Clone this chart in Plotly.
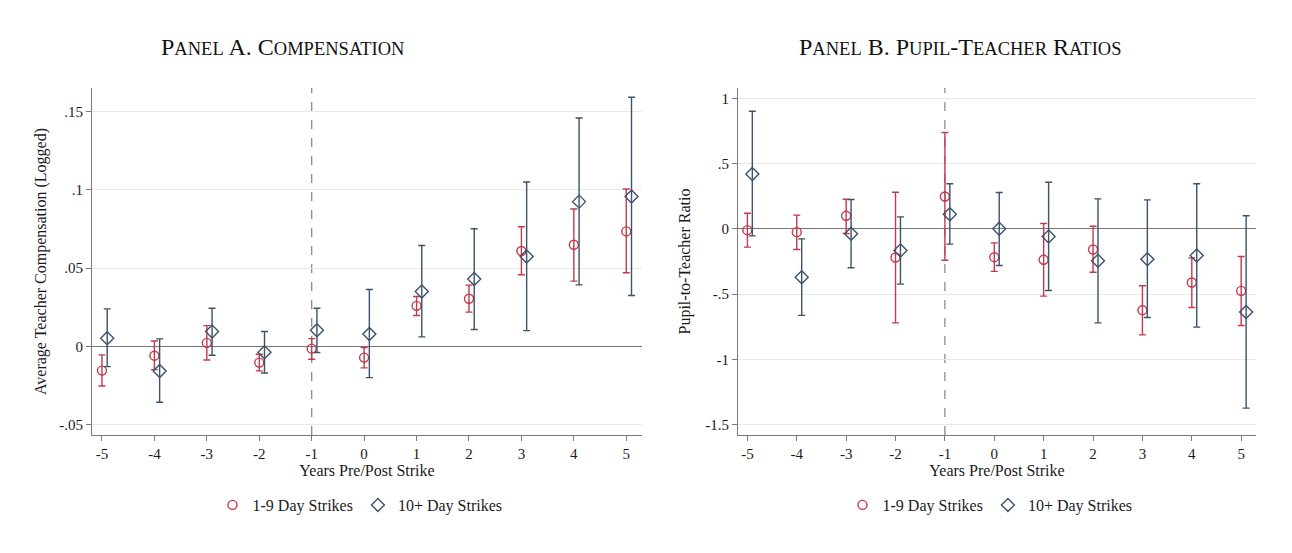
import plotly.graph_objects as go

years = [-5, -4, -3, -2, -1, 0, 1, 2, 3, 4, 5]

# Panel A: Average Teacher Compensation (Logged)
a_short = [-0.0153, -0.0058, 0.0024, -0.0102, -0.0013, -0.0070, 0.0260, 0.0305, 0.0610, 0.0650, 0.0735]
a_short_hi = [-0.0053, 0.0036, 0.0134, -0.0049, 0.0051, -0.0006, 0.0320, 0.0392, 0.0765, 0.0878, 0.1006]
a_short_lo = [-0.0251, -0.0147, -0.0085, -0.0155, -0.0081, -0.0136, 0.0198, 0.0220, 0.0458, 0.0418, 0.0471]
a_long = [0.0054, -0.0155, 0.0096, -0.0036, 0.0105, 0.0081, 0.0351, 0.0431, 0.0575, 0.0925, 0.0958]
a_long_hi = [0.0241, 0.0049, 0.0245, 0.0096, 0.0245, 0.0364, 0.0645, 0.0752, 0.1050, 0.1459, 0.1591]
a_long_lo = [-0.0128, -0.0355, -0.0055, -0.0168, -0.0038, -0.0198, 0.0062, 0.0109, 0.0102, 0.0394, 0.0326]

# Panel B: Pupil-to-Teacher Ratio
b_short = [-0.010, -0.025, 0.100, -0.219, 0.248, -0.217, -0.237, -0.158, -0.623, -0.411, -0.475]
b_short_hi = [0.120, 0.105, 0.227, 0.281, 0.738, -0.107, 0.041, 0.020, -0.436, -0.222, -0.212]
b_short_lo = [-0.140, -0.158, -0.036, -0.720, -0.240, -0.326, -0.515, -0.332, -0.812, -0.602, -0.740]
b_long = [0.421, -0.370, -0.038, -0.166, 0.112, 0.000, -0.059, -0.245, -0.232, -0.204, -0.636]
b_long_hi = [0.901, -0.077, 0.225, 0.092, 0.345, 0.279, 0.357, 0.230, 0.222, 0.345, 0.100]
b_long_lo = [-0.054, -0.663, -0.298, -0.423, -0.117, -0.281, -0.472, -0.720, -0.679, -0.753, -1.373]

a_ticks = [-0.05, 0, 0.05, 0.1, 0.15]
a_ticktext = ["-.05", "0", ".05", ".1", ".15"]
b_ticks = [-1.5, -1, -0.5, 0, 0.5, 1]
b_ticktext = ["-1.5", "-1", "-.5", "0", ".5", "1"]

series_names = ["1-9 Day Strikes", "10+ Day Strikes"]
titles = ["Panel A. Compensation", "Panel B. Pupil-Teacher Ratios"]
ytitles = ["Average Teacher Compensation (Logged)", "Pupil-to-Teacher Ratio"]
xtitle = "Years Pre/Post Strike"

RED = "#C23A4E"
BLUE = "#3D526B"
TXT = "#1a1a1a"
FONT = "Liberation Serif"
OFFSET = 0.1

# page offset (browser body margin) compensation
OX, OY = 8, 8
W, H = 1284, 545


def px(x):
    return (x - OX) / W


def py(y):
    return 1 - (y - OY) / H


def smallcaps(text, big=24, small=18.5):
    out = []
    for ch in text:
        if ch.islower():
            out.append(f'<span style="font-size:{small}px">{ch.upper()}</span>')
        else:
            out.append(f'<span style="font-size:{big}px">{ch}</span>')
    return "".join(out)


fig = go.Figure()


def add_panel(short, s_hi, s_lo, long_, l_hi, l_lo, xa, ya, legend):
    fig.add_trace(go.Scatter(
        x=years, y=short, mode="markers", name=series_names[0],
        xaxis=xa, yaxis=ya, legend=legend,
        marker=dict(symbol="circle-open", size=9, color=RED, line=dict(width=1.4, color=RED)),
        error_y=dict(type="data", symmetric=False,
                     array=[h - v for h, v in zip(s_hi, short)],
                     arrayminus=[v - l for v, l in zip(short, s_lo)],
                     color=RED, thickness=1.4, width=3.5),
    ))
    fig.add_trace(go.Scatter(
        x=[y + OFFSET for y in years], y=long_, mode="markers", name=series_names[1],
        xaxis=xa, yaxis=ya, legend=legend,
        marker=dict(symbol="diamond-open", size=10, color=BLUE, line=dict(width=1.4, color=BLUE)),
        error_y=dict(type="data", symmetric=False,
                     array=[h - v for h, v in zip(l_hi, long_)],
                     arrayminus=[v - l for v, l in zip(long_, l_lo)],
                     color=BLUE, thickness=1.4, width=3.5),
    ))


add_panel(a_short, a_short_hi, a_short_lo, a_long, a_long_hi, a_long_lo, "x", "y", "legend")
add_panel(b_short, b_short_hi, b_short_lo, b_long, b_long_hi, b_long_lo, "x2", "y2", "legend2")

ydom = [py(435), py(88)]

common_x = dict(
    range=[-5.19, 5.3], tickmode="array", tickvals=years, ticktext=[str(v) for v in years],
    showgrid=False, zeroline=False, showline=True, linecolor="#7a7a7a", linewidth=1.2,
    ticks="outside", ticklen=5, tickcolor="#7a7a7a", tickwidth=1.2,
    tickfont=dict(family=FONT, size=15, color=TXT),
    title=dict(text=xtitle, font=dict(family=FONT, size=16, color=TXT), standoff=2),
)
common_y = dict(
    showgrid=True, gridcolor="#e9e9e9", gridwidth=1,
    zeroline=True, zerolinecolor="#777777", zerolinewidth=1.2,
    showline=True, linecolor="#7a7a7a", linewidth=1.2,
    ticks="outside", ticklen=5, tickcolor="#7a7a7a", tickwidth=1.2,
    tickfont=dict(family=FONT, size=15, color=TXT),
)

fig.update_layout(
    width=W, height=H,
    margin=dict(l=0, r=0, t=0, b=0),
    paper_bgcolor="white", plot_bgcolor="white",
    font=dict(family=FONT, size=16, color=TXT),
    xaxis=dict(domain=[px(92), px(642)], anchor="y", **common_x),
    yaxis=dict(domain=ydom, anchor="x", range=[-0.0564, 0.165],
               tickvals=a_ticks, ticktext=a_ticktext,
               title=dict(text=ytitles[0], font=dict(family=FONT, size=16, color=TXT), standoff=8),
               **common_y),
    xaxis2=dict(domain=[px(738), px(1256)], anchor="y2", **common_x),
    yaxis2=dict(domain=ydom, anchor="x2", range=[-1.579, 1.079],
                tickvals=b_ticks, ticktext=b_ticktext,
                title=dict(text=ytitles[1], font=dict(family=FONT, size=16, color=TXT), standoff=10),
                **common_y),
    legend=dict(orientation="h", x=px(360), xanchor="center", y=py(505), yanchor="middle",
                font=dict(family=FONT, size=16, color=TXT), bgcolor="rgba(0,0,0,0)",
                itemwidth=30, traceorder="normal"),
    legend2=dict(orientation="h", x=px(990), xanchor="center", y=py(505), yanchor="middle",
                 font=dict(family=FONT, size=16, color=TXT), bgcolor="rgba(0,0,0,0)",
                 itemwidth=30, traceorder="normal"),
    showlegend=True,
)

for xa, ya in [("x", "y domain"), ("x2", "y2 domain")]:
    fig.add_shape(type="line", xref=xa, yref=ya, x0=-1, x1=-1, y0=0, y1=1,
                  line=dict(color="#8a8a8a", width=1.3, dash="dash"), layer="below")

for text, cx in zip(titles, [282, 960]):
    fig.add_annotation(text=smallcaps(text), x=px(cx), y=py(47), xref="paper", yref="paper",
                       xanchor="center", yanchor="middle", showarrow=False,
                       font=dict(family=FONT, size=24, color="#111"))

fig.write_html("out.html")
